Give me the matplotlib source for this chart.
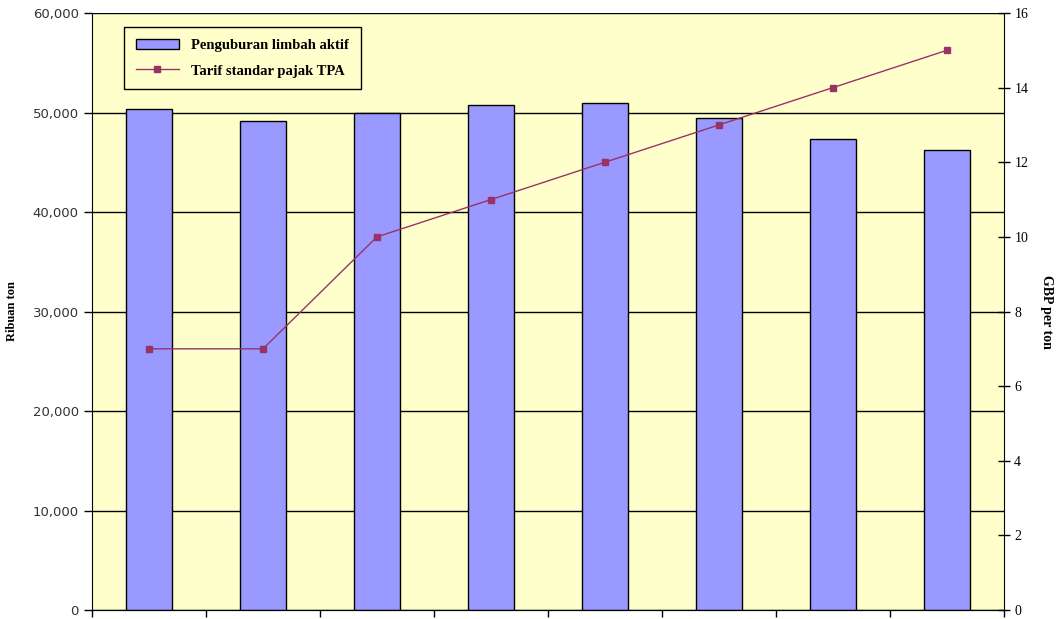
import numpy as np
import matplotlib
matplotlib.use("Agg")
import matplotlib.pyplot as plt
from matplotlib import ticker

# data
tahun = ['1', '2', '3', '4', '5', '6', '7', '8']
penguburan = [50400, 49150, 49950, 50750, 50950, 49450, 47300, 46200]   # ribuan ton
tarif = [7, 7, 10, 11, 12, 13, 14, 15]                                  # GBP per ton

x = np.arange(len(tahun))

fig = plt.figure(figsize=(10.59, 6.19), dpi=100)
ax = fig.add_axes([0.0869, 0.0145, 0.861, 0.9645])
ax.set_facecolor('#FFFFCC')

# batang: penguburan limbah
ax.bar(x, penguburan, width=0.4, color='#9999FF', edgecolor='black', linewidth=1.0,
       label='Penguburan limbah aktif', zorder=3)
ax.set_xlim(-0.5, len(tahun) - 0.5)
ax.set_ylim(0, 60000)
ax.yaxis.set_major_locator(ticker.MultipleLocator(10000))
ax.yaxis.set_major_formatter(ticker.FuncFormatter(lambda v, p: f'{int(v):,}'))
ax.grid(axis='y', color='black', linewidth=1.0, zorder=0)
ax.set_axisbelow(True)
ax.set_xticks(np.arange(len(tahun) + 1) - 0.5)
ax.set_xticklabels([])
ax.tick_params(axis='x', direction='out', length=5, width=1)
ax.tick_params(axis='y', direction='out', length=6, width=1, labelsize=9.5, labelcolor='#333333')
for lab in ax.get_yticklabels():
    lab.set_family('DejaVu Sans')
ax.set_ylabel('Ribuan ton', fontsize=9, fontweight='bold', family='Liberation Serif')
ax.yaxis.set_label_coords(-0.081, 0.5)
for s in ['top', 'right']:
    ax.spines[s].set_visible(False)

# garis: tarif pajak TPA (sumbu kanan)
ax2 = ax.twinx()
ax2.plot(x, tarif, color='#993366', linewidth=1.0, marker='s', markersize=4,
         label='Tarif standar pajak TPA')
ax2.set_ylim(0, 16)
ax2.yaxis.set_major_locator(ticker.MultipleLocator(2))
ax2.tick_params(axis='y', direction='inout', length=8, width=1, labelsize=10)
for lab in ax2.get_yticklabels():
    lab.set_family('Liberation Serif')
ax2.set_ylabel('GBP per ton', fontsize=10, fontweight='bold', family='Liberation Serif',
               rotation=270, va='center')
ax2.yaxis.set_label_coords(1.047, 0.5)
ax2.spines['top'].set_visible(False)
ax2.spines['left'].set_visible(False)

# legenda gabungan
h1, l1 = ax.get_legend_handles_labels()
h2, l2 = ax2.get_legend_handles_labels()
leg = ax2.legend(h1 + h2, l1 + l2, loc='upper left', bbox_to_anchor=(0.035, 0.9765),
                 borderaxespad=0, frameon=True, fancybox=False, edgecolor='black',
                 facecolor='#FFFFCC', framealpha=1,
                 prop={'family': 'Liberation Serif', 'weight': 'bold', 'size': 10.5},
                 handlelength=3.0, labelspacing=0.85, borderpad=0.8)
leg.get_frame().set_linewidth(1.0)

fig.savefig('out.png', dpi=100)
